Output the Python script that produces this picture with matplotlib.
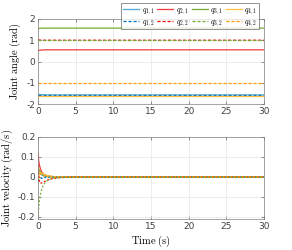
import numpy as np
import matplotlib
matplotlib.use("Agg")
import matplotlib.pyplot as plt

plt.rcParams['mathtext.fontset'] = 'cm'

t_ang = [0, 0.5, 1, 2, 30]
q11 = [-1.55, -1.56, -1.57, -1.57, -1.57]
q12 = [-1.57, -1.57, -1.57, -1.57, -1.57]
q21 = [0.52, 0.54, 0.55, 0.55, 0.55]
q22 = [1.02, 1.0, 1.0, 1.0, 1.0]
q31 = [1.55, 1.57, 1.57, 1.57, 1.57]
q32 = [1.0, 1.0, 1.0, 1.0, 1.0]
q41 = [-1.6, -1.6, -1.6, -1.6, -1.6]
q42 = [-1.0, -1.0, -1.0, -1.0, -1.0]

# Joint velocities (rad/s)
t_vel = [0, 0.1, 0.25, 0.5, 0.75, 1, 1.5, 2, 3, 5, 30]
dq11 = [0.03, 0.025, 0.018, 0.01, 0.006, 0.004, 0.002, 0.001, 0, 0, 0]
dq12 = [-0.02, -0.015, -0.01, -0.006, -0.004, -0.002, -0.001, 0, 0, 0, 0]
dq21 = [0.12, 0.08, 0.05, 0.025, 0.015, 0.009, 0.004, 0.002, 0, 0, 0]
dq22 = [0.06, 0.0, -0.03, -0.03, -0.025, -0.02, -0.012, -0.008, -0.003, 0, 0]
dq31 = [0.05, 0.04, 0.03, 0.018, 0.01, 0.006, 0.003, 0.001, 0, 0, 0]
dq32 = [-0.2, -0.15, -0.1, -0.06, -0.04, -0.025, -0.012, -0.006, -0.002, 0, 0]
dq41 = [-0.03, -0.01, 0.02, 0.02, 0.015, 0.01, 0.005, 0.002, 0.001, 0, 0]
dq42 = [0.03, 0.03, 0.02, 0.01, 0.006, 0.003, 0.001, 0, 0, 0, 0]

labels_solid = [r'$q_{1,1}$', r'$q_{2,1}$', r'$q_{3,1}$', r'$q_{4,1}$']
labels_dash = [r'$q_{1,2}$', r'$q_{2,2}$', r'$q_{3,2}$', r'$q_{4,2}$']

c_solid = ['#4daad9', '#f03c3c', '#77ac30', '#ffc040']
c_dash = ['#0072bd', '#ff0000', '#77ac30', '#ffa000']

fig = plt.figure(figsize=(2.92, 2.5), dpi=100)
ax1 = fig.add_axes([0.130, 0.584, 0.774, 0.340])
ax2 = fig.add_axes([0.130, 0.124, 0.774, 0.328])

ang_solid = [q11, q21, q31, q41]
ang_dash = [q12, q22, q32, q42]
vel_solid = [dq11, dq21, dq31, dq41]
vel_dash = [dq12, dq22, dq32, dq42]

handles = []
labels = []
for i in range(4):
    hs, = ax1.plot(t_ang, ang_solid[i], color=c_solid[i], lw=0.9)
    hd, = ax1.plot(t_ang, ang_dash[i], color=c_dash[i], lw=0.9, ls=(0, (2.5, 1.5)))
    # column-wise fill: solid on first row, dashed on second
    handles += [hs, hd]
    labels += [labels_solid[i], labels_dash[i]]

for i in range(4):
    ax2.plot(t_vel, vel_solid[i], color=c_solid[i], lw=0.9)
for i in range(4):
    ax2.plot(t_vel, vel_dash[i], color=c_dash[i], lw=0.9, ls=(0, (1.5, 1.5)))

for ax in (ax1, ax2):
    ax.set_xlim(0, 30)
    ax.set_xticks(np.arange(0, 31, 5))
    ax.grid(True, color='#e6e6e6', lw=0.5)
    ax.set_axisbelow(True)
    ax.tick_params(direction='in', labelsize=6.5, length=2, width=0.4,
                   top=True, right=True, colors='#404040', pad=2)
    for s in ax.spines.values():
        s.set_color('#808080')
        s.set_linewidth(0.5)

ax1.set_ylim(-2, 2)
ax1.set_yticks([-2, -1, 0, 1, 2])
ax1.set_yticklabels(['-2', '-1', '0', '1', '2'])
ax1.set_ylabel(r'$\mathrm{Joint\ angle\ (rad)}$', fontsize=7.5, labelpad=2)

ax2.set_ylim(-0.21, 0.2)
ax2.set_yticks([-0.2, -0.1, 0, 0.1, 0.2])
ax2.set_yticklabels(['-0.2', '-0.1', '0', '0.1', '0.2'])
ax2.set_ylabel(r'$\mathrm{Joint\ velocity\ (rad/s)}$', fontsize=7.5, labelpad=2)
ax2.set_xlabel(r'$\mathrm{Time\ (s)}$', fontsize=7.5, labelpad=2)

leg = fig.legend(handles, labels, ncol=4, fontsize=5.5, loc='upper right',
                 bbox_to_anchor=(0.887, 0.99), frameon=True, fancybox=False,
                 handlelength=2.1, handletextpad=0.3, columnspacing=0.4,
                 borderpad=0.25, labelspacing=0.1, borderaxespad=0)
leg.get_frame().set_edgecolor('#404040')
leg.get_frame().set_linewidth(0.5)

fig.savefig('out.png', dpi=100)
